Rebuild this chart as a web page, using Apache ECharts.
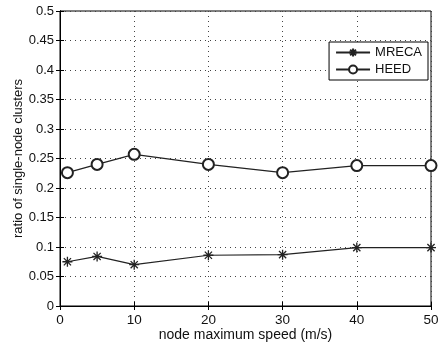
<!DOCTYPE html>
<html><head><meta charset="utf-8">
<script src="https://cdn.jsdelivr.net/npm/echarts@6/dist/echarts.min.js"></script>
<style>html,body{margin:0;padding:0;background:#fff}#c{width:444px;height:346px}</style>
</head><body><div id="c"></div>
<script>
const speeds = [1, 5, 10, 20, 30, 40, 50];
const mreca = [0.075, 0.084, 0.070, 0.086, 0.087, 0.099, 0.099];
const heed = [0.226, 0.240, 0.257, 0.240, 0.226, 0.238, 0.238];
const xTicks = [0, 10, 20, 30, 40, 50];

const font = 'Liberation Sans, Arial, sans-serif';
const star = 'path://M0,-5L0,5M-5,0L5,0M-3.6,-3.6L3.6,3.6M-3.6,3.6L3.6,-3.6';
const chart = echarts.init(document.getElementById('c'), null, {renderer: 'canvas'});
const tick = {show: true, inside: true, length: 4, lineStyle: {color: '#000'}};
chart.setOption({
  animation: false,
  backgroundColor: '#fff',
  textStyle: {fontFamily: font, color: '#111'},
  grid: {left: 60, right: 13, top: 11, bottom: 40, show: true, borderColor: '#000', borderWidth: 1,
    containLabel: false, outerBoundsMode: 'none'},
  legend: {
    right: 16, top: 42, orient: 'vertical', itemWidth: 34, itemHeight: 10, itemGap: 4,
    backgroundColor: '#fff', borderColor: '#000', borderWidth: 1, padding: [4, 6, 4, 6],
    textStyle: {fontFamily: font, fontSize: 13, color: '#111'},
    data: ['MRECA', 'HEED']
  },
  xAxis: [{
    type: 'value', min: 0, max: 50, interval: 10,
    name: 'node maximum speed (m/s)', nameLocation: 'middle', nameGap: 22, nameMoveOverlap: false,
    nameTextStyle: {fontFamily: font, fontSize: 14, color: '#111'},
    axisLine: {show: true, lineStyle: {color: '#000'}}, axisTick: tick,
    axisLabel: {fontFamily: font, fontSize: 13.5, color: '#111', margin: 7,
      formatter: v => xTicks.includes(v) ? String(v) : ''},
    splitLine: {show: true, lineStyle: {color: '#444', type: [1, 4], width: 1}}
  }, {
    type: 'value', min: 0, max: 50, interval: 10, position: 'top',
    axisLine: {show: true, lineStyle: {color: '#000'}}, axisTick: tick,
    axisLabel: {show: false}, splitLine: {show: false}
  }],
  yAxis: [{
    type: 'value', min: 0, max: 0.5, interval: 0.05,
    name: 'ratio of single-node clusters', nameLocation: 'middle', nameGap: 35, nameMoveOverlap: false,
    nameTextStyle: {fontFamily: font, fontSize: 13, color: '#111'},
    axisLine: {show: true, lineStyle: {color: '#000'}}, axisTick: tick,
    axisLabel: {fontFamily: font, fontSize: 13, color: '#111', margin: 6},
    splitLine: {show: true, lineStyle: {color: '#444', type: [1, 4], width: 1}}
  }, {
    type: 'value', min: 0, max: 0.5, interval: 0.05, position: 'right',
    axisLine: {show: true, lineStyle: {color: '#000'}}, axisTick: tick,
    axisLabel: {show: false}, splitLine: {show: false}
  }],
  series: [{
    name: 'MRECA', type: 'line', data: speeds.map((s, i) => [s, mreca[i]]),
    symbol: star, symbolSize: 10, showAllSymbol: true,
    lineStyle: {color: '#222', width: 1.2},
    itemStyle: {color: '#222', borderColor: '#222', borderWidth: 1.3}
  }, {
    name: 'HEED', type: 'line', data: speeds.map((s, i) => [s, heed[i]]),
    symbol: 'emptyCircle', symbolSize: 11, showAllSymbol: true,
    lineStyle: {color: '#222', width: 1.2},
    itemStyle: {color: '#222', borderColor: '#222', borderWidth: 1.3}
  }]
});
</script></body></html>
